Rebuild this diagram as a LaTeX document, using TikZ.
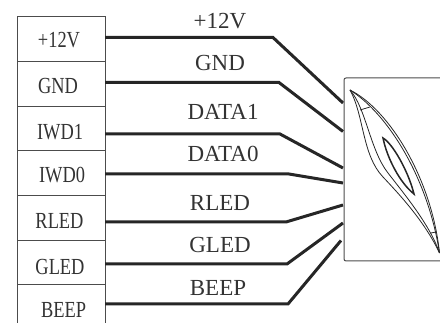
\documentclass[tikz,border=0pt]{standalone}
\usepackage{fontspec}
\setmainfont{Liberation Serif}
\tikzset{
    wire/.style={line width=3pt,black!85,line join=miter},
    cell/.style={font=\fontsize{23}{23}\selectfont,xscale=0.8,black!80},
    signal/.style={font=\fontsize{23}{23}\selectfont,black!80},
    frame/.style={line width=1pt,black!70},
    lens/.style={line width=0.8pt,black!85},
}
\begin{document}
\begin{tikzpicture}[x=1pt,y=-1pt]
    \useasboundingbox (0,0) rectangle (440,323);
    % connector table
    \draw [frame] (17,323) -- (17,17) -- (105,17) -- (105,323);
    \draw [frame] (17,62) -- (105,62);
    \draw [frame] (17,107) -- (105,107);
    \draw [frame] (17,151) -- (105,151);
    \draw [frame] (17,196) -- (105,196);
    \draw [frame] (17,241) -- (105,241);
    \draw [frame] (17,285) -- (105,285);
    \node [cell] (pin12v) at (59,40) {+12V};
    \node [cell] (pingnd) at (58,86) {GND};
    \node [cell] (pinwa) at (60,132) {IWD1};
    \node [cell] (pinwb) at (62,175) {IWD0};
    \node [cell] (pinrled) at (59.5,221) {RLED};
    \node [cell] (pingled) at (60,267) {GLED};
    \node [cell] (pinbeep) at (63.5,310) {BEEP};
    % signal names
    \node [signal] (sig12v) at (220,21) {+12V};
    \node [signal] (siggnd) at (220,63) {GND};
    \node [signal] (sigwa) at (223,112) {DATA1};
    \node [signal] (sigwb) at (223,154) {DATA0};
    \node [signal] (sigrled) at (220,203) {RLED};
    \node [signal] (siggled) at (220,245) {GLED};
    \node [signal] (sigbeep) at (218,288) {BEEP};
    % wires
    \coordinate (a1) at (105,37.5);
    \coordinate (a2) at (105,82.5);
    \coordinate (a3) at (105,134);
    \coordinate (a4) at (105,174);
    \coordinate (a5) at (105,222);
    \coordinate (a6) at (105,264);
    \coordinate (a7) at (105,304);
    \coordinate (b1) at (343,103);
    \coordinate (b2) at (343,131.5);
    \coordinate (b3) at (343,168);
    \coordinate (b4) at (343,183);
    \coordinate (b5) at (343,205);
    \coordinate (b6) at (343,223);
    \coordinate (b7) at (341,240.5);
    \draw [wire] (a1) -- (273,37.5) -- (b1);
    \draw [wire] (a2) -- (279,82.5) -- (b2);
    \draw [wire] (a3) -- (280,134) -- (b3);
    \draw [wire] (a4) -- (289,174) -- (b4);
    \draw [wire] (a5) -- (286,222) -- (b5);
    \draw [wire] (a6) -- (287,264) -- (b6);
    \draw [wire] (a7) -- (288,304) -- (b7);
    % reader
    \draw [frame,rounded corners=2pt] (440,78) -- (344,78) -- (344,261) -- (440,261);
    \coordinate (tipa) at (350,90);
    \coordinate (tipb) at (439.5,253);
    \draw [lens] (tipa) .. controls (390,110) and (432,180) .. (tipb);
    \draw [lens] (tipa) .. controls (388,114) and (428,178) .. (tipb);
    \draw [lens] (tipa) .. controls (364,115) and (362,155) .. (383,177) .. controls (400,195) and (425,222) .. (tipb);
    \draw [lens] (tipa) .. controls (366,108) and (370,150) .. (388,173) .. controls (405,195) and (430,225) .. (tipb);
    \draw [lens] (360,110) -- (370,107);
    \draw [lens] (431,233) -- (436,232);
    \draw [line width=1.5pt,black!85] (383,138) .. controls (392,143) and (408,170) .. (414,194) .. controls (400,183) and (387,158) .. cycle;
\end{tikzpicture}
\end{document}
